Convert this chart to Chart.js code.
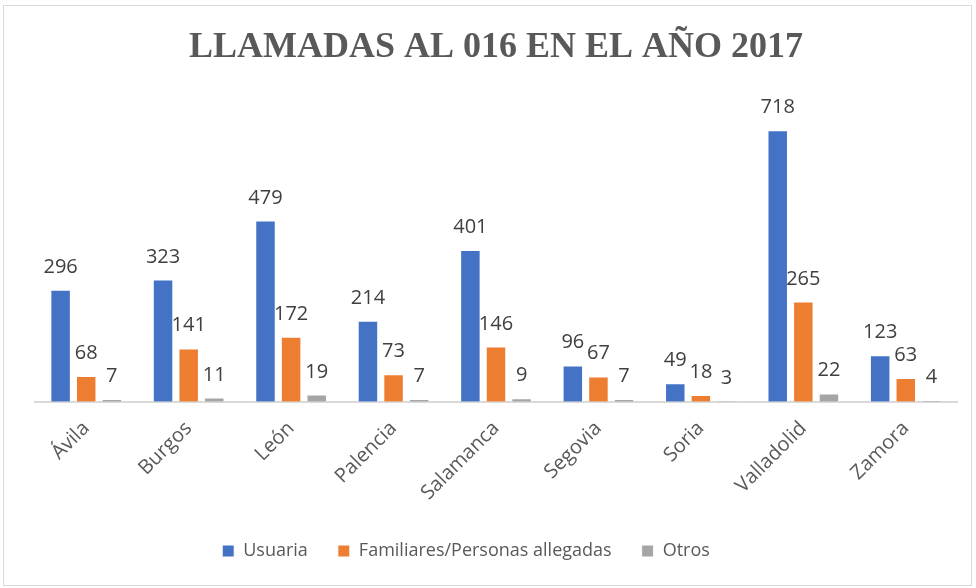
<!DOCTYPE html>
<html>
<head>
<meta charset="utf-8">
<script src="https://cdn.jsdelivr.net/npm/chart.js@4/dist/chart.umd.min.js"></script>
<style>
  body { margin: 0; background: #fff; }
  #frame { position: absolute; left: 3px; top: 5px; width: 967px; height: 579px; border: 1px solid #d9d9d9; }
  #wrap { position: absolute; left: 0; top: 0; width: 976px; height: 588px; }
</style>
</head>
<body>
<div id="frame"></div>
<div id="wrap"><canvas id="chart" width="976" height="588"></canvas></div>
<script>
const provincias = ['Ávila', 'Burgos', 'León', 'Palencia', 'Salamanca', 'Segovia', 'Soria', 'Valladolid', 'Zamora'];
const usuaria = [296, 323, 479, 214, 401, 96, 49, 718, 123];
const familiares = [68, 141, 172, 73, 146, 67, 18, 265, 63];
const otros = [7, 11, 19, 7, 9, 7, 3, 22, 4];

const labelFont = "'Open Sans', sans-serif";

// etiquetas de valor encima de cada barra
const valueLabels = {
  id: 'valueLabels',
  afterDatasetsDraw(chart) {
    const ctx = chart.ctx;
    ctx.save();
    ctx.font = '20px ' + labelFont;
    ctx.fillStyle = '#404040';
    ctx.textAlign = 'center';
    ctx.textBaseline = 'alphabetic';
    chart.data.datasets.forEach((ds, i) => {
      chart.getDatasetMeta(i).data.forEach((bar, j) => {
        ctx.fillText(ds.data[j], bar.x, bar.y - 17);
      });
    });
    ctx.restore();
  }
};

// la leyenda de Excel queda algo desplazada a la izquierda
const shiftLegend = {
  id: 'shiftLegend',
  beforeDraw(chart) {
    chart.legend.left -= 30;
    chart.legend.right -= 30;
  },
  afterDraw(chart) {
    chart.legend.left += 30;
    chart.legend.right += 30;
  }
};

new Chart(document.getElementById('chart'), {
  type: 'bar',
  data: {
    labels: provincias,
    datasets: [
      { label: 'Usuaria', data: usuaria, backgroundColor: '#4472c4', borderColor: '#ffffff', borderWidth: 1 },
      { label: 'Familiares/Personas allegadas', data: familiares, backgroundColor: '#ed7d31', borderColor: '#ffffff', borderWidth: 1 },
      { label: 'Otros', data: otros, backgroundColor: '#a5a5a5', borderColor: '#ffffff', borderWidth: 1 }
    ]
  },
  options: {
    responsive: false,
    animation: false,
    devicePixelRatio: 1,
    categoryPercentage: 0.75,
    barPercentage: 0.8,
    layout: { padding: { left: 35, right: 19, top: 0, bottom: 18 } },
    plugins: {
      title: {
        display: true,
        text: 'LLAMADAS AL 016 EN EL AÑO 2017',
        color: '#595959',
        font: { family: "'Liberation Serif', serif", size: 36, weight: 'bold' },
        padding: { top: 26, bottom: 30 }
      },
      legend: {
        position: 'bottom',
        labels: {
          color: '#595959',
          font: { family: labelFont, size: 18 },
          boxWidth: 12,
          boxHeight: 12,
          padding: 30
        }
      },
      tooltip: { enabled: false }
    },
    scales: {
      x: {
        grid: { display: false },
        border: { color: '#d9d9d9', width: 2 },
        ticks: { color: '#595959', font: { family: labelFont, size: 20 }, minRotation: 45, maxRotation: 45, padding: 7 }
      },
      y: { display: false, min: 0, max: 800 }
    }
  },
  plugins: [valueLabels, shiftLegend]
});
</script>
</body>
</html>
